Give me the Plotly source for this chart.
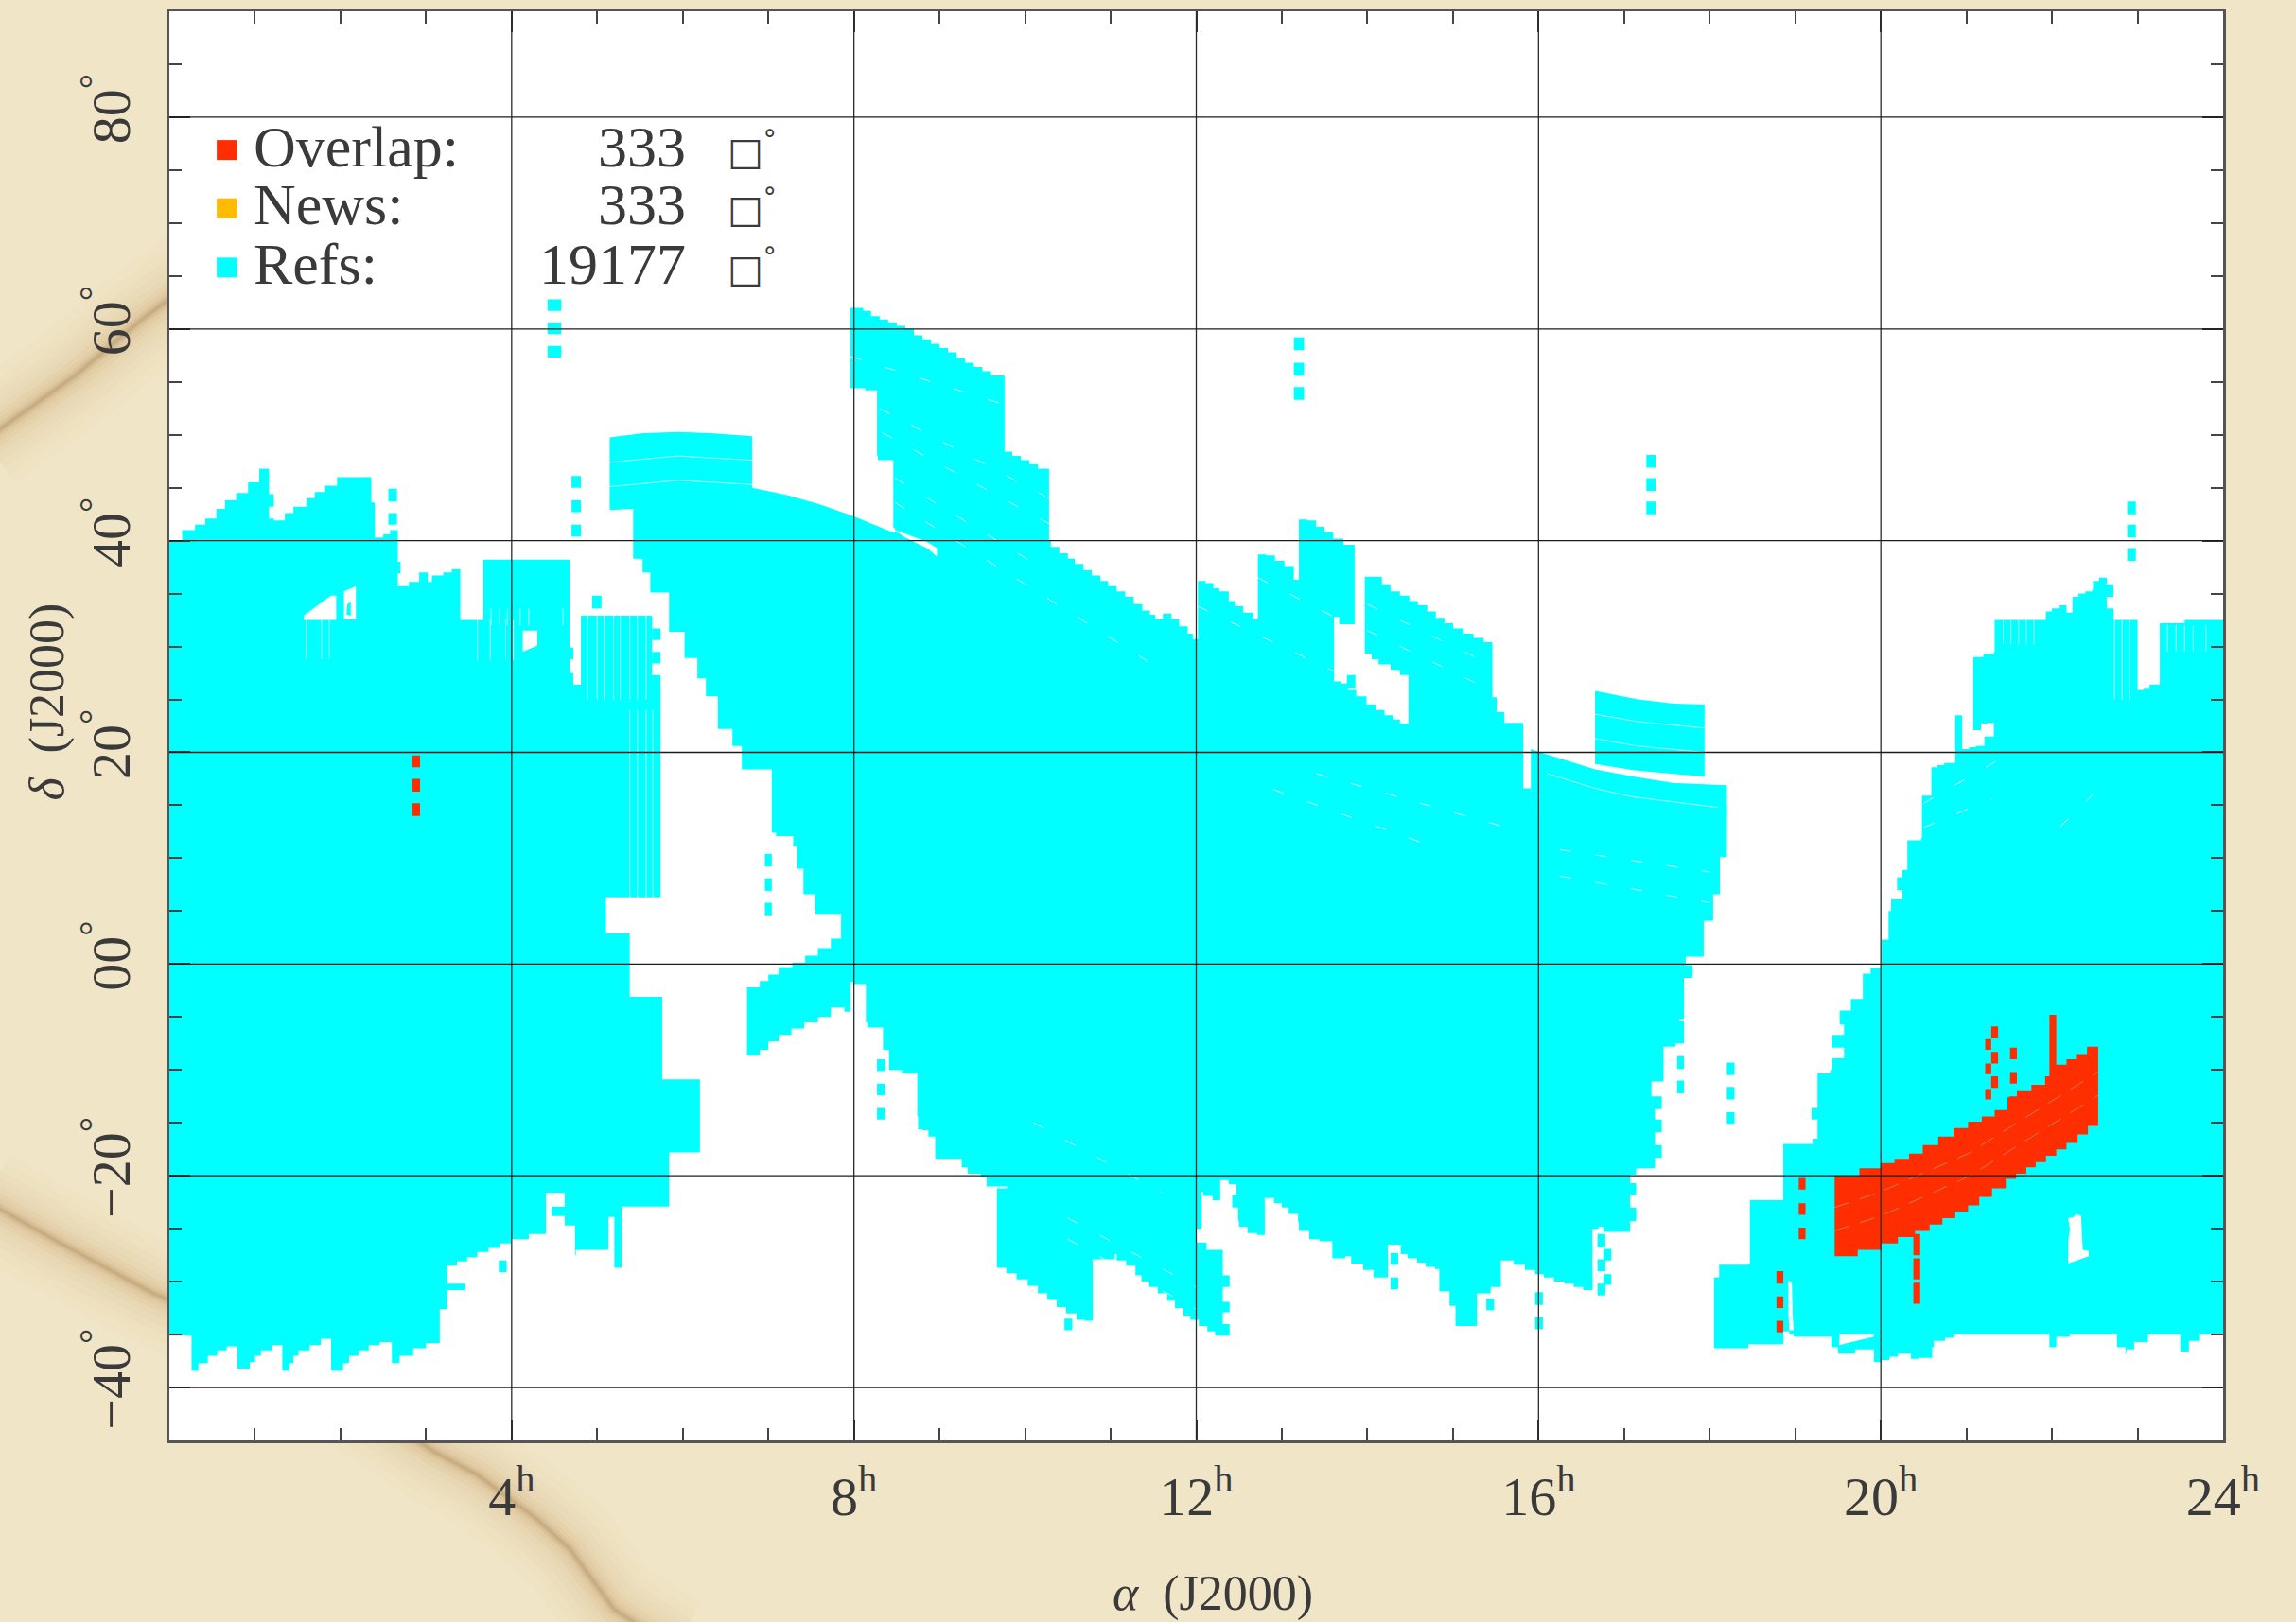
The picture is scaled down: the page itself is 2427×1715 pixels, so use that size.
import plotly.graph_objects as go

CYAN = "#00FFFF"; RED = "#FF2E00"; ORANGE = "#FFBB00"; INK = "#3a3a3a"
SERIF = "Liberation Serif"

ra_ticks = [0, 4, 8, 12, 16, 20, 24]
ra_labels = ["", "4<sup>h</sup>", "8<sup>h</sup>", "12<sup>h</sup>", "16<sup>h</sup>", "20<sup>h</sup>", "24<sup>h</sup>"]
dec_ticks = [-40, -20, 0, 20, 40, 60, 80]
dec_labels = ["−40<sup>°</sup>", "−20<sup>°</sup>", "00<sup>°</sup>", "20<sup>°</sup>", "40<sup>°</sup>", "60<sup>°</sup>", "80<sup>°</sup>"]

legend_names = ["Overlap:", "News:", "Refs:"]
legend_areas = ["333", "333", "19177"]
legend_dec = [76.9, 71.4, 65.8]
legend_cols = [RED, ORANGE, CYAN]

block_a = [(0,40),(0.15,41),(0.3,41.5),(0.42,42.1),(0.55,43),(0.65,43.8),(0.78,44.5),(0.92,45.5),(1.05,46.8),(1.165,46.8),(1.165,44.4),(1.22,44.4),(1.22,43.2),(1.165,43.2),(1.165,42.1),(1.22,41.9),(1.35,42.6),(1.45,43.2),(1.6,44),(1.7,44.6),(1.82,45.2),(1.96,46),(2.36,46),(2.36,43.6),(2.40,43.6),(2.40,40.3),(2.5,40.6),(2.58,41),(2.67,41),(2.67,38),(2.70,38),(2.70,36.9),(2.67,36.9),(2.67,35.7),(2.8,36.1),(2.92,37),(3.02,37),(3.02,36.1),(3.07,36.7),(3.2,37),(3.30,37.3),(3.40,37.5),(3.40,32.5),(3.67,32.5),(3.67,38.2),(4.68,38.2),(4.68,29.9),(4.72,29.9),(4.72,28.8),(4.68,28.7),(4.68,27.5),(4.72,27.5),(4.72,26.4),(4.81,26.3),(4.81,32.9),(5.64,32.9),(5.64,27.3),(5.74,27.3),(5.74,6.3),(5.10,6.3),(5.10,2.9),(5.36,2.9),(5.38,2.6),(5.38,-3.1),(5.76,-3.1),(5.76,-10.9),(6.2,-10.9),(6.2,-17.8),(5.84,-17.9),(5.84,-22.9),(5.29,-23.3),(5.29,-28.7),(5.2,-28.7),(5.2,-23.9),(5.13,-24.1),(5.13,-27),(4.75,-27.5),(4.74,-24.7),(4.62,-24.7),(4.62,-23.8),(4.47,-23.9),(4.47,-22.9),(4.62,-22.5),(4.62,-21.6),(4.40,-22.1),(4.40,-25.5),(4.2,-26),(3.99,-26.4),(3.86,-26.8),(3.73,-27.2),(3.6,-27.7),(3.48,-28.1),(3.36,-28.5),(3.24,-29),(3.24,-30.2),(3.46,-29.7),(3.46,-30.8),(3.24,-31.4),(3.24,-32.6),(3.16,-32.7),(3.16,-35.8),(3.0,-36.3),(2.85,-37),(2.69,-37.7),(2.60,-38),(2.60,-35.7),(2.46,-36),(2.33,-36.5),(2.21,-37),(2.1,-37.7),(2.03,-38.4),(1.89,-38.4),(1.89,-35.4),(1.77,-36),(1.64,-36.5),(1.51,-37),(1.45,-37.7),(1.40,-38.4),(1.32,-38.4),(1.32,-36),(1.2,-36.5),(1.07,-37),(1,-37.6),(0.94,-38.2),(0.79,-38.1),(0.79,-36.1),(0.67,-36.5),(0.56,-37),(0.45,-37.7),(0.34,-38.4),(0.26,-38.5),(0.26,-35.1),(0,-35)]

block_arc = [(5.146,49.75),(5.54,50.15),(5.94,50.27),(6.33,50.15),(6.81,49.87),(6.81,45),(7.22,44.3),(7.61,43.4),(8,42.3),(8.45,40.8),(8.85,40),(8.85,38),(5.42,38.3),(5.42,43),(5.146,42.9)]

block_b = [(8.85,40),(10.3,40),(10.3,39.4),(10.4,38.8),(10.5,38.3),(10.58,37.8),(10.68,37.2),(10.78,36.7),(10.88,36.2),(10.97,35.7),(11.07,35.2),(11.17,34.7),(11.27,34),(11.37,33.4),(11.46,33),(11.52,32.6),(11.61,33.1),(11.71,32.6),(11.8,31.9),(11.9,31.2),(11.96,30.7),(12.02,30.7),(12.02,36.2),(12.11,36),(12.2,35.5),(12.27,35.2),(12.38,35.2),(12.38,34.3),(12.45,33.8),(12.55,33.2),(12.66,32.6),(12.72,32.5),(12.72,38.7),(12.82,38.6),(12.92,38.1),(13.03,37.6),(13.14,37.1),(13.14,36.3),(13.2,36.3),(13.2,42),(13.3,41.9),(13.4,41.3),(13.5,40.8),(13.6,40.2),(13.72,39.6),(13.85,38.9),(13.85,32.1),(13.75,32.1),(13.67,32.8),(13.61,32.8),(13.61,26.7),(13.69,26.5),(13.77,25.9),(13.87,25.3),(13.99,24.5),(14.1,24),(14.2,23.5),(14.3,23.1),(14.38,22.7),(14.48,22.5),(14.48,27.3),(14.38,27.8),(14.27,28.3),(14.13,28.8),(14.05,29.3),(13.97,29.8),(13.97,36.6),(14.06,36.6),(14.17,35.8),(14.27,35.2),(14.38,34.8),(14.49,34.3),(14.59,33.9),(14.7,33.3),(14.8,32.7),(14.9,32.2),(15,31.7),(15.12,31.2),(15.24,30.8),(15.36,30.4),(15.46,30.1),(15.46,25.2),(15.51,25.2),(15.51,23.8),(15.6,23.8),(15.6,22.8),(15.82,22.2),(15.82,16.6),(15.91,16.6),(15.91,15),(18.2,15),(18.2,10.1),(18.12,10),(18.12,6.6),(18.04,6.5),(18.04,4.1),(17.93,4.1),(17.93,0.7),(17.72,0.6),(17.72,-0.1),(17.8,-0.2),(17.8,-1.3),(17.7,-1.7),(17.7,-5.2),(17.64,-5.4),(17.7,-6.4),(17.7,-7.5),(17.6,-7.8),(17.46,-7.8),(17.46,-11.1),(17.31,-11.1),(17.32,-12.5),(17.44,-12.7),(17.44,-13.7),(17.36,-13.7),(17.36,-14.7),(17.44,-14.8),(17.44,-15.9),(17.36,-16),(17.36,-17.1),(17.44,-17.2),(17.44,-18.3),(17.36,-18.3),(17.36,-19.3),(17.14,-19.2),(17.14,-19.9),(17.07,-19.9),(17.07,-20.7),(17.14,-20.8),(17.14,-21.8),(17.07,-22),(17.07,-23),(17.14,-23.2),(17.14,-24.3),(17.07,-24.4),(17.07,-25.3),(16.76,-25.7),(16.76,-24.8),(16.7,-25),(16.63,-25.5),(16.63,-30.8),(16.52,-30.5),(16.41,-30.2),(16.3,-30),(16.18,-29.6),(16.06,-29.3),(15.96,-29.9),(15.96,-28.9),(15.84,-28.4),(15.71,-28),(15.56,-27.5),(15.56,-30.5),(15.44,-30.5),(15.44,-31.1),(15.28,-30.9),(15.28,-34.2),(15.2,-34.2),(15.03,-33.7),(15.03,-32.3),(14.96,-32.2),(14.96,-30.9),(14.84,-30.5),(14.84,-28.8),(14.79,-28.6),(14.68,-28.2),(14.58,-27.8),(14.47,-27.4),(14.39,-26.5),(14.24,-26.1),(14.24,-29.6),(14.17,-29.6),(14.07,-28.9),(13.95,-28.3),(13.81,-27.6),(13.74,-27.8),(13.59,-26.2),(13.44,-26),(13.32,-25.2),(13.2,-24.4),(13.19,-23.6),(13.08,-23),(13.0,-22.6),(12.91,-22.1),(12.8,-22.1),(12.8,-25.6),(12.71,-25.4),(12.6,-24.8),(12.5,-24.3),(12.49,-23),(12.42,-22.7),(12.42,-21.8),(12.47,-20.8),(12.38,-20.4),(12.28,-20),(12.28,-22.3),(12.21,-22.3),(12.19,-21.9),(12.08,-21.5),(12.05,-21.8),(12.06,-23),(12.06,-25),(12.0,-25),(12,-26.3),(12.03,-26.3),(12.12,-27),(12.31,-27.9),(12.31,-29.4),(12.39,-29.4),(12.39,-30.5),(12.31,-30.6),(12.31,-31.9),(12.39,-31.9),(12.39,-32.9),(12.31,-32.9),(12.31,-34),(12.39,-34),(12.39,-35.1),(12.3,-35.1),(12.22,-34.7),(12.13,-34.2),(12.03,-33.6),(11.93,-33.2),(11.84,-32.5),(11.75,-31.8),(11.66,-31.1),(11.55,-30.5),(11.45,-30),(11.36,-29.4),(11.29,-28.5),(11.18,-28),(11.07,-27.4),(11.05,-27.9),(10.96,-27.9),(10.79,-27.2),(10.79,-33.7),(10.7,-33.6),(10.6,-33),(10.48,-32.4),(10.37,-31.7),(10.26,-31.1),(10.15,-30.4),(10.03,-29.8),(9.9,-29.2),(9.78,-28.7),(9.67,-28.2),(9.67,-21.2),(9.79,-21),(9.55,-20.1),(9.48,-19.8),(9.33,-19.2),(9.26,-18.4),(8.95,-17.5),(8.95,-16.3),(8.87,-15.7),(8.8,-15.6),(8.75,-14.4),(8.74,-10.3),(8.56,-10),(8.41,-9.3),(8.41,-8.1),(8.35,-8.1),(8.34,-6),(8.16,-5.5),(8.14,-1.9),(8,-1.7),(7.96,-1.7),(7.96,-4.5),(7.89,-4.5),(7.89,-4.1),(7.82,-4.1),(7.73,-5),(7.58,-5.5),(7.42,-6.1),(7.27,-6.7),(7.12,-7.3),(7.0,-8.1),(6.9,-8.6),(6.75,-9),(6.75,-2.2),(6.9,-1.6),(7.0,-1),(7.12,-0.3),(7.28,0.15),(7.43,0.8),(7.58,1.5),(7.73,2.4),(7.85,2.9),(7.85,4.75),(7.55,5.2),(7.54,6.6),(7.41,6.8),(7.41,9),(7.33,9),(7.33,11.1),(7.29,11.1),(7.29,12.1),(7.09,12.4),(7.04,13.6),(7.04,18.4),(6.69,19),(6.69,20.6),(6.58,20.6),(6.58,22.2),(6.46,22.2),(6.41,23.3),(6.41,25.3),(6.27,25.3),(6.27,27),(6.17,27),(6.17,28.9),(6.08,28.9),(6.02,29.5),(6.02,31.4),(5.89,31.4),(5.84,32.4),(5.84,35.1),(5.62,35.1),(5.62,37),(5.54,37),(5.53,38.3),(5.42,38.3)]

block_c = [(7.96,62),(8.11,61.7),(8.2,61.2),(8.3,60.9),(8.4,60.6),(8.5,60.3),(8.6,60.0),(8.7,59.4),(8.8,59.0),(8.9,58.6),(9.0,58.2),(9.1,57.8),(9.2,57.2),(9.3,56.8),(9.4,56.4),(9.5,56),(9.6,55.6),(9.76,55.1),(9.76,48.4),(9.85,48),(9.95,47.6),(10.05,47.2),(10.15,46.8),(10.28,46.3),(10.28,39.5),(8.9,39.5),(8.48,41.2),(8.46,47.6),(8.28,48),(8.27,54.2),(8.13,54.4),(7.96,55.1)]

block_f = [(16.66,25.8),(17.16,25),(17.58,24.6),(17.94,24.5),(17.94,17.7),(17.12,18.3),(16.66,18.9)]
block_f2 = [(15.91,20.3),(16.06,19.9),(16.66,18.4),(17.12,17.7),(17.58,17.1),(18.2,16.9),(18.2,14),(15.91,14)]

block_g = [(24,32.5),(24,-35),(23.85,-35),(23.72,-35.6),(23.6,-36.6),(23.5,-36.8),(23.5,-35),(23.27,-35),(23.12,-35.7),(22.96,-36.4),(22.87,-36.8),(22.86,-36.2),(22.76,-36.1),(22.76,-35),(22.28,-35),(22.21,-35.2),(22.05,-36.2),(21.97,-36.5),(21.97,-35),(20.95,-35),(20.85,-35.3),(20.75,-35.6),(20.62,-36.2),(20.6,-37.2),(20.44,-37.3),(20.35,-36.8),(20.2,-37.1),(20.1,-37.4),(20,-37.6),(19.92,-37.7),(19.92,-36.4),(19.7,-36.8),(19.5,-37.3),(19.5,-36.2),(19.42,-36.2),(19.42,-35.2),(18.98,-35),(18.93,-34.7),(18.86,-34.7),(18.86,-35.9),(18.45,-36.3),(18.05,-36.4),(18.05,-29.6),(18.11,-28.4),(18.45,-28.3),(18.47,-22.3),(18.86,-21.9),(18.86,-17),(19.2,-16.5),(19.26,-15.9),(19.26,-14.7),(19.19,-14.6),(19.19,-13.6),(19.26,-13.5),(19.26,-10.3),(19.41,-10),(19.43,-8.9),(19.57,-8.9),(19.57,-7.9),(19.43,-7.8),(19.43,-6.7),(19.52,-6.7),(19.57,-5.7),(19.52,-5.6),(19.52,-4.4),(19.65,-4.4),(19.65,-3.3),(19.73,-3.3),(19.79,-0.9),(19.88,-0.4),(20.01,-0.1),(20.01,2.3),(20.09,2.3),(20.09,5),(20.12,6.1),(20.25,6.1),(20.25,7),(20.19,7.1),(20.19,8.2),(20.25,8.9),(20.31,9),(20.31,11.7),(20.47,11.9),(20.48,15.9),(20.58,15.9),(20.59,18.6),(20.66,18.8),(20.74,19),(20.87,19.9),(20.87,23.5),(20.95,23.5),(20.95,20.3),(21.03,20.5),(21.11,20.6),(21.21,21.5),(21.32,21.9),(21.32,22.8),(21.25,22.7),(21.17,22.1),(21.08,22),(21.08,29),(21.2,29.3),(21.32,29.5),(21.33,32.5),(21.92,32.5),(21.93,33.3),(22.0,33.6),(22.09,33.9),(22.17,33.9),(22.17,33.2),(22.24,33.2),(22.24,34.7),(22.31,35),(22.39,35.2),(22.47,35.4),(22.48,36.2),(22.55,36.5),(22.64,36.5),(22.64,35.8),(22.72,35.8),(22.72,34.7),(22.64,34.7),(22.64,33.6),(22.72,33.5),(22.72,32.5),(23,32.5),(23,25.9),(23.07,26.1),(23.14,26.4),(23.26,26.9),(23.26,32.2),(23.54,32.2),(23.55,32.5)]

holes = [
    [(1.57,32.5),(1.57,32.9),(1.89,34.8),(1.95,34.8),(1.95,32.5)],
    [(2.04,32.6),(2.04,35.2),(2.18,35.7),(2.18,32.6),(2.12,32.6),(2.12,34.2),(2.08,34),(2.07,33),(2.12,32.9),(2.12,32.6)],
    [(4.13,31.5),(4.3,31.5),(4.3,30.1),(4.13,29.5)],
    [(8.45,41.1),(8.85,39.9),(8.97,39.3),(8.97,38.5),(8.87,39.2),(8.60,40.3)],
    [(22.19,-24),(22.25,-23.9),(22.28,-23.6),(22.34,-23.8),(22.36,-27),(22.43,-27.1),(22.43,-27.6),(22.28,-28),(22.19,-28.3),(22.19,-26.1),(22.21,-25.1)],
    [(19.52,-35),(19.92,-35),(19.92,-35.2),(19.51,-36)],
    [(18.92,-29.9),(18.96,-30.1),(18.97,-33.1),(18.98,-34.6),(18.93,-34.6),(18.92,-33)],
    [(16.63,-25.3),(16.69,-25.3),(16.69,-26.5),(16.63,-26.5)],
    [(16.63,-27.7),(16.69,-27.7),(16.69,-28.8),(16.63,-28.8)],
]

# isolated fields: RA from, RA to, Dec from, Dec to
cyan_ra0 = [4.42,4.42,4.42,2.56,2.56,4.70,4.70,4.70,4.94,5.64,5.64,13.14,13.14,13.14,17.26,17.26,17.26,22.88,22.88,22.88,6.96,6.96,6.96,8.27,8.27,8.27,3.85,10.46,14.27,14.27,15.39,15.96,15.96,16.69,16.76,16.69,16.76,16.69,17.62,17.62,18.2,18.2,18.2,13.76]
cyan_ra1 = [4.58,4.58,4.58,2.66,2.66,4.81,4.81,4.81,5.05,5.74,5.74,13.26,13.26,13.26,17.37,17.37,17.37,22.98,22.98,22.98,7.04,7.04,7.04,8.36,8.36,8.36,3.94,10.55,14.36,14.36,15.48,16.05,16.05,16.78,16.85,16.78,16.85,16.78,17.70,17.70,18.29,18.29,18.29,13.86]
cyan_d0 = [62.8,60.6,58.4,44.9,42.6,46.1,43.8,41.5,34.8,31.7,29.5,59.2,56.8,54.5,48.1,45.9,43.7,43.7,41.5,39.3,10.4,8.1,5.8,-9,-11.3,-13.6,-28,-33.5,-27.3,-29.6,-31.6,-31,-33.3,-25.5,-26.9,-27.9,-29.3,-30.2,-8.7,-11,-9.3,-11.6,-14,26.1]
cyan_d1 = [61.7,59.5,57.3,43.7,41.5,45,42.7,40.4,33.6,30.6,28.4,58,55.6,53.3,46.9,44.7,42.5,42.5,40.3,38.1,9.2,6.9,4.6,-10.1,-12.4,-14.7,-29.1,-34.6,-28.4,-30.7,-32.7,-32.2,-34.5,-26.7,-28,-29,-30.3,-31.3,-9.9,-12.2,-10.5,-12.8,-15.1,27.3]

overlap_band = [(19.46,-27.6),(19.73,-27),(20,-26.4),(20.2,-25.8),(20.4,-25.2),(20.57,-24.6),(20.72,-24),(20.87,-23.4),(21.02,-22.8),(21.15,-22),(21.3,-21.2),(21.46,-20.3),(21.58,-19.8),(21.7,-19.2),(21.81,-18.7),(21.93,-18.1),(22.05,-17.5),(22.17,-16.9),(22.3,-16.1),(22.42,-15.3),(22.54,-14.6),(22.54,-7.8),(22.41,-8.5),(22.28,-9),(22.17,-9.5),(22.05,-10),(22.05,-4.8),(21.97,-4.8),(21.97,-10.6),(21.92,-11.4),(21.76,-12),(21.59,-12.5),(21.5,-12.6),(21.48,-13.8),(21.33,-14.4),(21.18,-14.9),(21.02,-15.5),(20.85,-16.3),(20.67,-17.1),(20.49,-17.9),(20.33,-18.4),(20.16,-18.8),(20,-19.3),(19.75,-20),(19.46,-20.7)]

red_ra0 = [21.22,21.22,21.22,21.29,21.29,21.29,21.51,21.51,20.38,20.38,20.38,19.04,19.04,19.04,18.78,18.78,18.78,2.84,2.84,2.84]
red_ra1 = [21.29,21.29,21.29,21.37,21.37,21.37,21.59,21.59,20.46,20.46,20.46,19.12,19.12,19.12,18.86,18.86,18.86,2.93,2.93,2.93]
red_d0 = [-7.1,-9.4,-11.8,-5.9,-8.3,-10.6,-7.9,-10.2,-25.5,-27.8,-30.1,-20.2,-22.6,-24.9,-29,-31.4,-33.7,19.7,17.5,15.2]
red_d1 = [-8.1,-10.4,-12.8,-7,-9.4,-11.7,-9,-11.3,-27.5,-29.8,-32.1,-21.3,-23.7,-26,-30.2,-32.5,-34.8,18.6,16.3,14]

seam_solid = [
    [(5.146,47.4),(5.94,48),(6.81,47.6)], [(5.146,45.1),(5.94,45.7),(6.81,45.3)],
    [(16.66,23.6),(17.16,22.9),(17.94,22.3)], [(16.66,21.3),(17.16,20.6),(17.94,20)],
    [(16.1,18),(16.66,16.6),(17.1,15.8),(18.1,14.8)],
    [(4.89,32.9),(4.89,25)], [(5.0,32.9),(5.0,25)], [(5.08,32.9),(5.08,25)],
    [(5.19,32.9),(5.19,25)], [(5.27,32.9),(5.27,25)], [(5.38,32.9),(5.38,25)], [(5.47,32.9),(5.47,25)], [(5.57,32.9),(5.57,25)],
    [(5.38,24),(5.38,6.3)], [(5.47,24),(5.47,6.3)], [(5.57,24),(5.57,6.3)], [(5.65,24),(5.65,6.3)],
    [(21.43,32.5),(21.43,30.2)], [(21.52,32.5),(21.52,30.2)], [(21.61,32.5),(21.61,30.2)], [(21.7,32.5),(21.7,30.2)], [(21.79,32.5),(21.79,30.2)],
    [(22.73,32.5),(22.73,25)], [(22.82,32.5),(22.82,25)], [(22.91,32.5),(22.91,25)],
    [(23.35,32),(23.35,29.5)], [(23.45,32),(23.45,29.5)], [(23.55,32),(23.55,29.5)], [(23.65,32),(23.65,29.5)], [(23.8,32),(23.8,29.5)],
    [(3.76,33.6),(3.76,32)], [(3.86,33.6),(3.86,32)], [(3.95,33.6),(3.95,32)], [(4.1,33.6),(4.1,32)], [(4.2,33.6),(4.2,32)], [(4.6,33.6),(4.6,32)],
    [(3.6,32.5),(3.6,28.7)], [(3.75,32.5),(3.75,28.7)], [(3.93,32.5),(3.93,28.7)], [(4.02,32.5),(4.02,28.7)],
    [(1.6,32.5),(1.6,28.8)], [(1.78,32.5),(1.78,28.8)], [(1.87,32.5),(1.87,28.8)],
]
seam_dash = [
    [(7.96,57.4),(9.74,52.9)], [(8.3,52.5),(10.28,44)], [(8.33,50.2),(10.28,41.6)], [(8.48,45.9),(10.28,37)], [(8.48,43.6),(11.57,27.9)],
    [(12.02,33.8),(13.6,27.7)], [(12.72,36.5),(13.85,31.8)], [(14,34),(15.46,28.2)], [(14,31.5),(15.46,25.8)],
    [(13.4,18),(15.8,12.5)], [(12.9,16.5),(14.8,11)], [(16.25,10.8),(18,8.7)], [(16.25,8.3),(18,5.8)],
    [(20.5,15.2),(21.4,19.4)], [(20.5,12.9),(21.3,15.6)], [(22.1,13),(22.6,17)],
    [(10.1,-15),(11.6,-21.6)], [(10.5,-24),(12,-30.5)], [(10.5,-26),(12,-32.6)],
]
seam_band = [[(19.46,-23),(20,-21.5),(21.02,-17.9),(22.54,-10.2)], [(19.46,-25.2),(20,-23.8),(21.02,-20.1),(22.54,-12.4)]]

# dark stains on the paper, as fractions of the plot box (the plot box hides their inner ends)
stain_1 = [(-0.09,0.70),(-0.046,0.745),(-0.012,0.786),(0.03,0.83)]
stain_2 = [(-0.09,0.168),(-0.053,0.138),(-0.035,0.124),(-0.008,0.103),(0.03,0.08)]
stain_3 = [(0.09,0.03),(0.129,-0.008),(0.150,-0.024),(0.179,-0.055),(0.195,-0.076),(0.2165,-0.118),(0.245,-0.145)]


def poly(points, colour, shape="linear"):
    return go.Scatter(x=[p[0] for p in points], y=[p[1] for p in points], mode="lines", fill="toself",
                      fillcolor=colour, line=dict(width=0, color=colour, shape=shape), hoverinfo="skip", showlegend=False)


def rects(ra0, ra1, d0, d1, colour):
    xs, ys = [], []
    for a, b, c, d in zip(ra0, ra1, d0, d1):
        xs += [a, b, b, a, a, None]
        ys += [c, c, d, d, c, None]
    return go.Scatter(x=xs, y=ys, mode="lines", fill="toself", fillcolor=colour, line=dict(width=0, color=colour),
                      hoverinfo="skip", showlegend=False)


def seams(groups, colour, width, dash="solid"):
    xs, ys = [], []
    for g in groups:
        xs += [p[0] for p in g] + [None]
        ys += [p[1] for p in g] + [None]
    return go.Scatter(x=xs, y=ys, mode="lines", line=dict(color=colour, width=width, dash=dash), hoverinfo="skip", showlegend=False)


fig = go.Figure()
fig.add_trace(poly(block_a, CYAN, "hv"))
fig.add_trace(poly(block_c, CYAN, "hv"))
fig.add_trace(poly(block_arc, CYAN))
fig.add_trace(poly(block_b, CYAN, "hv"))
fig.add_trace(poly(block_f, CYAN))
fig.add_trace(poly(block_f2, CYAN))
fig.add_trace(poly(block_g, CYAN, "hv"))
for h in holes:
    fig.add_trace(poly(h, "#FFFFFF"))
fig.add_trace(rects(cyan_ra0, cyan_ra1, cyan_d0, cyan_d1, CYAN))
fig.add_trace(seams(seam_solid, "rgba(255,255,255,0.7)", 1))
fig.add_trace(seams(seam_dash, "rgba(255,255,255,0.8)", 1, "12px,26px"))
fig.add_trace(poly(overlap_band, RED, "hv"))
fig.add_trace(rects(red_ra0, red_ra1, red_d0, red_d1, RED))
fig.add_trace(seams(seam_band, "rgba(190,140,120,0.8)", 1, "16px,12px"))
fig.add_trace(go.Scatter(x=[0.67] * 3, y=legend_dec, mode="markers",
                         marker=dict(symbol="square", size=21, color=legend_cols), hoverinfo="skip", showlegend=False))

shapes = []
for stain in (stain_1, stain_2, stain_3):
    d = "M " + " L ".join(f"{x},{y}" for x, y in stain)
    for w, col, op in ((110, "#d6b67e", 0.03), (90, "#d6b67e", 0.035), (72, "#d0ae74", 0.04), (56, "#d0ae74", 0.045),
                       (42, "#c9a468", 0.05), (30, "#bd9455", 0.06), (20, "#b58a4e", 0.08), (12, "#ad8148", 0.1),
                       (7, "#9a7040", 0.12), (3, "#8f6536", 0.14)):
        shapes.append(dict(type="path", path=d, xref="paper", yref="paper", layer="below",
                           line=dict(color=col, width=w), opacity=op))
shapes.append(dict(type="rect", xref="paper", yref="paper", x0=0, x1=1, y0=0, y1=1, layer="below",
                   fillcolor="#FFFFFF", line=dict(width=0)))
for v in ra_ticks[1:-1]:
    shapes.append(dict(type="line", xref="x", yref="paper", x0=v, x1=v, y0=0, y1=1, layer="above",
                       line=dict(color="#2a2a2a", width=1.3)))
for v in dec_ticks:
    shapes.append(dict(type="line", xref="paper", yref="y", x0=0, x1=1, y0=v, y1=v, layer="above",
                       line=dict(color="#1c1c1c", width=1.3)))

ann = []
for name, area, dec in zip(legend_names, legend_areas, legend_dec):
    ann.append(dict(x=0.96, y=dec, xref="x", yref="y", text=name, showarrow=False, xanchor="left", yanchor="middle", yshift=4,
                    font=dict(family=SERIF, size=62, color=INK)))
    ann.append(dict(x=6.06, y=dec, xref="x", yref="y", text=area, showarrow=False, xanchor="right", yanchor="middle", yshift=4,
                    font=dict(family=SERIF, size=62, color=INK)))
    ann.append(dict(x=6.5, y=dec, xref="x", yref="y", text="□<sup>°</sup>", showarrow=False, xanchor="left", yanchor="middle", yshift=2,
                    font=dict(family="DejaVu Sans", size=40, color=INK)))
ann.append(dict(x=0.508, y=-0.128, xref="paper", yref="paper", text="<i>α</i>  (J2000)", showarrow=False,
                font=dict(family=SERIF, size=52, color=INK)))
ann.append(dict(x=-0.0594, y=0.5165, xref="paper", yref="paper", text="<i>δ</i>  (J2000)", showarrow=False, textangle=-90,
                xanchor="center", yanchor="middle", font=dict(family=SERIF, size=52, color=INK)))
fig.update_layout(annotations=ann, shapes=shapes)

fig.update_layout(
    width=2427, height=1715, autosize=False, margin=dict(l=179, r=77, t=9, b=192),
    paper_bgcolor="#F0E5C6", plot_bgcolor="rgba(0,0,0,0)", showlegend=False,
    xaxis=dict(range=[0, 24], tickmode="array", tickvals=ra_ticks, ticktext=ra_labels, ticks="inside", ticklen=22, tickwidth=2,
               tickcolor="#333", showgrid=False, zeroline=False, showline=True, linecolor="#555", linewidth=3, mirror="allticks",
               tickfont=dict(family=SERIF, size=58, color=INK), tickangle=0, ticklabelstandoff=6,
               minor=dict(dtick=1, ticks="inside", ticklen=13, tickwidth=1.5, tickcolor="#444", showgrid=False), layer="above traces"),
    yaxis=dict(range=[-45, 90], tickmode="array", tickvals=dec_ticks, ticktext=dec_labels, ticks="inside", ticklen=22, tickwidth=2,
               tickcolor="#333", showgrid=False, zeroline=False, showline=True, linecolor="#555", linewidth=3, mirror="allticks",
               tickfont=dict(family=SERIF, size=58, color=INK), tickangle=-90, ticklabelstandoff=16,
               minor=dict(dtick=5, ticks="inside", ticklen=13, tickwidth=1.5, tickcolor="#444", showgrid=False), layer="above traces"),
)
fig.write_html("out.html", config=dict(displayModeBar=False),
               post_script="document.body.style.margin='0';document.body.style.background='#F0E5C6';")
